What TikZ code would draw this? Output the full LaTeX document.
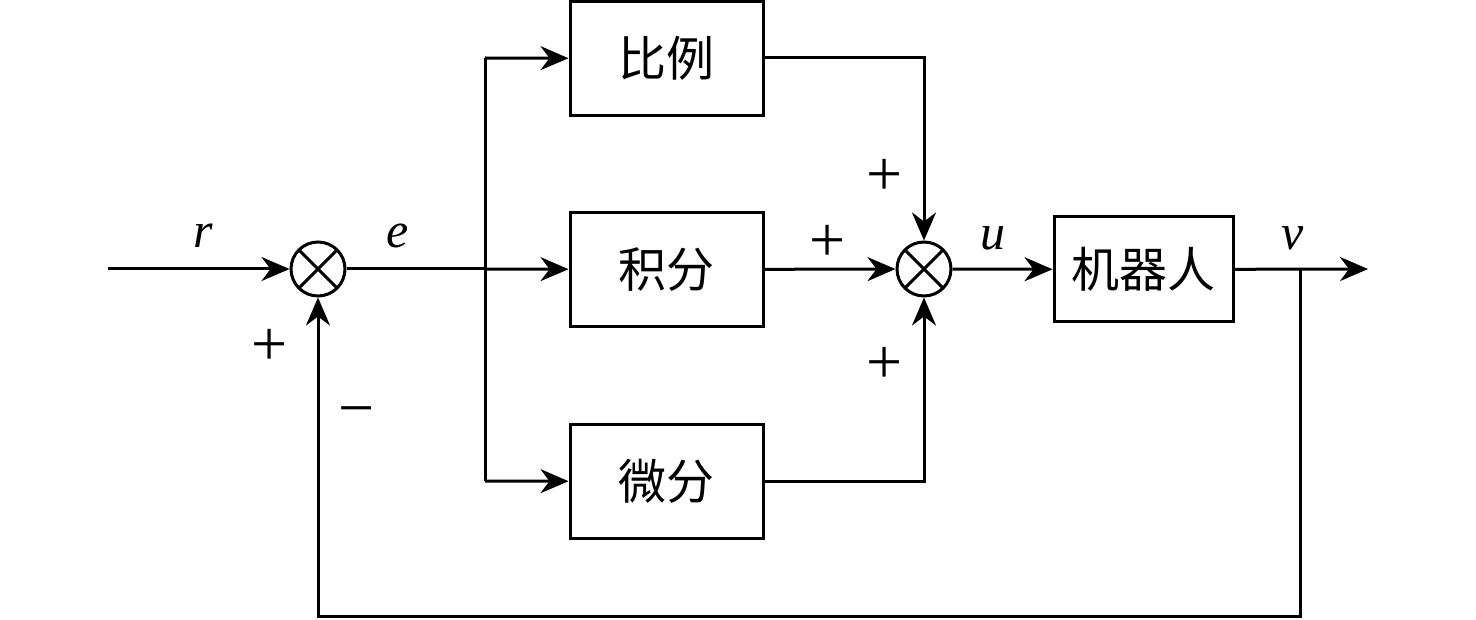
\documentclass[tikz,border=0pt]{standalone}
\usepackage{fontspec}
\setmainfont{Liberation Serif}
\newfontfamily\cjk{Noto Sans CJK SC}
\usetikzlibrary{arrows.meta}
\begin{document}
\begin{tikzpicture}[x=1pt,y=-1pt,
  line width=3pt,
  arr/.style={-{Stealth[length=28pt,width=24pt,inset=9pt]}},
  blockbox/.style={draw,minimum width=193pt,minimum height=114pt,inner sep=0pt,font=\cjk\fontsize{48}{52}\selectfont},
  sumnode/.style={draw,circle,minimum size=54pt,inner sep=0pt,
    path picture={\draw[line width=3pt] (path picture bounding box.north west)--(path picture bounding box.south east)
      (path picture bounding box.north east)--(path picture bounding box.south west);}},
  var/.style={font=\fontsize{50}{54}\selectfont\itshape,inner sep=0pt},
  sgn/.style={font=\fontsize{64}{68}\selectfont,inner sep=0pt}]
\useasboundingbox (0,0) rectangle (1476,620);
\coordinate (in) at (108,269);
\node[sumnode] (s1) at (318,269) {};
\coordinate (br) at (485,269);
\coordinate (brt) at (485,58);
\coordinate (brb) at (485,481);
\node[blockbox] (p) at (666.5,58.5) {比例};
\node[blockbox] (i) at (666.5,269.5) {积分};
\node[blockbox] (d) at (666.5,481.5) {微分};
\node[sumnode] (s2) at (924,269) {};
\coordinate (pc) at (924,58);
\coordinate (dc) at (924,481);
\node[blockbox,minimum width=179pt,minimum height=105pt] (rob) at (1143.5,269.5) {机器人};
\coordinate (out) at (1368,269);
\coordinate (fb) at (1300,269);
\coordinate (fb1) at (1300,616);
\coordinate (fb2) at (318,616);

\draw[arr] (in) -- (s1);
\draw (s1) -- (br);
\draw[arr] (br) -- (i);
\draw[arr] (brt) -- (p);
\draw[arr] (brb) -- (d);
\draw (brt) -- (brb);
\draw[arr] (p.east |- pc) -- (pc) -- (s2);
\draw[arr] (i) -- (s2);
\draw[arr] (d.east |- dc) -- (dc) -- (s2);
\draw[arr] (s2) -- (rob);
\draw[arr] (rob) -- (out);
\draw[arr] (fb) -- (fb1) -- (fb2) -- (s1);

\node[var] (lr) at (203,236) {r};
\node[var] (le) at (398,236) {e};
\node[var] (lu) at (993,238) {u};
\node[var] (lv) at (1293,238) {v};
\node[sgn] (pl1) at (270,347) {+};
\node[sgn] (mi1) at (357,418) {−};
\node[sgn] (pl2) at (885,177) {+};
\node[sgn] (pl3) at (828,243) {+};
\node[sgn] (pl4) at (885,365) {+};
\end{tikzpicture}
\end{document}
